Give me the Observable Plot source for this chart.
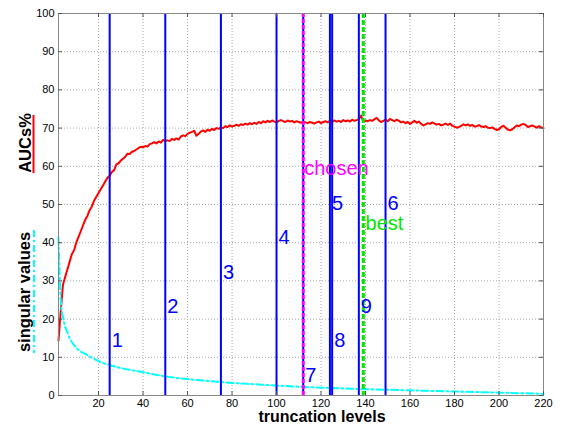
<!DOCTYPE html>
<html><head><meta charset="utf-8">
<script src="https://cdn.jsdelivr.net/npm/d3@7"></script>
<script src="https://cdn.jsdelivr.net/npm/@observablehq/plot@0.6"></script>
<style>body{margin:0;background:#fff;}</style>
</head><body><div id="chart"></div>
<script>
// AUC (%) at truncation levels 2..220
const aucStart = 2;
const aucValues = [
  14.4, 22, 29, 31, 33, 35, 37, 38, 40, 41.5,
  43, 44.5, 46, 47, 48.5, 49.5, 51, 52, 53, 54,
  55, 56, 57, 57.5, 58.5, 59, 60.5, 60.8, 61.5, 62,
  62.5, 63.3, 63.2, 63.8, 64, 64.4, 64.8, 65.1, 65.0, 65.3,
  65.2, 65.8, 66, 66.3, 66.0, 66.5, 66.2, 66.9, 66.6, 66.8,
  66.6, 67.2, 66.9, 67.3, 67.0, 67.8, 68.1, 67.9, 68.5, 68.8,
  69.0, 69.3, 68.0, 68.5, 69.1, 69.4, 69.0, 69.6, 69.3, 69.8,
  69.5, 70.0, 69.8, 70.2, 70.0, 70.5, 70.3, 70.7, 70.4, 70.6,
  70.9, 70.6, 71.0, 70.8, 71.2, 70.9, 71.3, 71.0, 71.4, 71.1,
  71.6, 71.3, 71.8, 71.5, 71.9, 71.6, 72.0, 71.7, 71.5, 71.9,
  72.1, 71.8, 71.6, 72.0, 71.7, 71.9, 71.5, 71.8, 71.6, 71.4,
  71.7, 71.5, 71.3, 71.6, 71.4, 71.2, 71.5, 71.7, 71.3, 71.6,
  71.8, 71.5, 71.9, 71.6, 72.0, 71.7, 71.9, 71.6, 72.1, 71.8,
  72.0, 71.7, 72.2, 71.9, 72.1, 72.3, 73.3, 71.6, 72.0, 71.8,
  72.1, 71.9, 72.3, 72.7, 72.0, 71.6, 71.9, 72.2, 71.8, 72.4,
  72.1, 71.8, 72.2, 71.9, 71.5, 71.7, 71.3, 71.6, 71.1, 71.5,
  71.9, 71.4, 71.7, 71.1, 70.7, 71.0, 71.3, 71.1, 71.5, 71.2,
  70.9, 71.1, 70.7, 70.9, 71.2, 70.8, 71.2, 70.6, 70.4, 70.1,
  70.3, 70.6, 71.0, 70.7, 71.0, 70.6, 70.8, 70.4, 70.5, 70.8,
  70.4, 70.3, 70.5, 70.1, 70.0, 70.2, 69.8, 69.5, 69.7, 70.3,
  70.6, 70.1, 69.6, 69.4, 69.7, 70.2, 70.7, 70.5, 70.9, 71.1,
  70.8, 70.3, 70.5, 70.7, 70.4, 70.1, 70.5, 70.2, 70.0
];
// singular values
const svLevels = [2, 3, 4, 5, 6, 7, 8, 10, 12, 14, 17, 20, 23, 26, 30, 35, 40, 45, 50, 60, 70, 80, 90, 100, 110, 120, 130, 140, 150, 160, 170, 180, 190, 200, 210, 220];
const svValues = [41.4, 25, 20.5, 18, 16.5, 15, 14, 12.5, 11.5, 10.9, 9.9, 9.0, 8.3, 7.8, 7.2, 6.6, 6.1, 5.5, 5.0, 4.3, 3.8, 3.3, 2.95, 2.6, 2.3, 2.05, 1.85, 1.65, 1.5, 1.35, 1.2, 1.05, 0.9, 0.75, 0.6, 0.45];
// candidate truncation levels
const lineLevels = [25, 50, 75, 100, 124, 149, 112, 125, 137];
const lineLabels = ["1", "2", "3", "4", "5", "6", "7", "8", "9"];
const labelHeights = [14, 23, 32, 41, 50, 50, 5, 14, 23];
const chosenLevel = 112;
const bestLevel = 139;
const chosenText = "chosen", chosenHeight = 59.5;
const bestText = "best", bestHeight = 45;
const xTicks = [20, 40, 60, 80, 100, 120, 140, 160, 180, 200, 220];
const yTicks = [0, 10, 20, 30, 40, 50, 60, 70, 80, 90, 100];
const gridY = [10, 20, 30, 40, 50, 60, 70, 80, 90];
const xLabel = "truncation levels";
const yLabel1 = "AUCs%";
const yLabel2 = "singular values";

const auc = aucValues.map((v, i) => ({x: aucStart + i, y: v}));
const sv = svLevels.map((x, i) => ({x, y: svValues[i]}));
const lines = lineLevels.map((x, i) => ({x, label: lineLabels[i], h: labelHeights[i]}));

const W = 563, H = 425, mL = 58, mR = 20, mT = 13, mB = 30;
const pw = W - mL - mR, ph = H - mT - mB;
const font = "'Liberation Sans', Arial, Helvetica, sans-serif";

const svg = Plot.plot({
  width: W, height: H,
  marginLeft: mL, marginRight: mR, marginTop: mT, marginBottom: mB,
  style: {fontFamily: font, fontSize: "11px", background: "#fff", color: "#000"},
  x: {domain: [2, 220]},
  y: {domain: [0, 100]},
  marks: [
    Plot.gridX(xTicks, {stroke: "#a8a8a8", strokeOpacity: 1, strokeDasharray: "1,2"}),
    Plot.gridY(gridY, {stroke: "#a8a8a8", strokeOpacity: 1, strokeDasharray: "1,2"}),
    Plot.line(auc, {x: "x", y: "y", stroke: "#ff0000", strokeWidth: 2}),
    Plot.line(sv, {x: "x", y: "y", stroke: "#00ffff", strokeWidth: 2, strokeDasharray: "7,3,2,3", curve: "monotone-x"}),
    Plot.ruleX(lines, {x: "x", stroke: "#0000ff", strokeWidth: 2}),
    Plot.ruleX([chosenLevel], {stroke: "#ff00ff", strokeWidth: 3, strokeDasharray: "4,2"}),
    Plot.ruleX([bestLevel], {stroke: "#00e600", strokeWidth: 3, strokeDasharray: "5,2"}),
    Plot.text(lines, {x: "x", y: "h", text: "label", textAnchor: "start", dx: 2, dy: -1, fill: "#0000ff", fontSize: 20}),
    Plot.text([chosenText], {x: chosenLevel, y: chosenHeight, text: d => d, textAnchor: "start", dx: 1, fill: "#ff00ff", fontSize: 20}),
    Plot.text([bestText], {x: bestLevel + 1, y: bestHeight, text: d => d, textAnchor: "start", fill: "#00e600", fontSize: 20}),
    Plot.frame({stroke: "#888"}),
    Plot.tickX(xTicks, {x: d => d, stroke: "#555", insetTop: ph - 4}),
    Plot.tickX(xTicks, {x: d => d, stroke: "#555", insetBottom: ph - 4}),
    Plot.tickY(yTicks, {y: d => d, stroke: "#555", insetRight: pw - 4}),
    Plot.tickY(yTicks, {y: d => d, stroke: "#555", insetLeft: pw - 4}),
    Plot.axisX(xTicks, {tickSize: 0, tickPadding: 3.5, label: null, fontSize: 11}),
    Plot.axisY(yTicks, {tickSize: 0, tickPadding: 4, label: null, fontSize: 11})
  ]
});

const s = d3.select(svg);
// x label
s.append("text").attr("x", 322).attr("y", 422).attr("text-anchor", "middle")
  .attr("font-family", font).attr("font-weight", "bold").attr("font-size", 16).attr("fill", "#000").text(xLabel);
// y label 1
s.append("text").attr("transform", "translate(30.5,143) rotate(-90)").attr("text-anchor", "middle")
  .attr("font-family", font).attr("font-weight", "bold").attr("font-size", 16.5).attr("fill", "#000").text(yLabel1);
s.append("line").attr("x1", 33.5).attr("x2", 33.5).attr("y1", 115).attr("y2", 173)
  .attr("stroke", "#ff0000").attr("stroke-width", 2);
// y label 2
s.append("text").attr("transform", "translate(29.5,292) rotate(-90)").attr("text-anchor", "middle")
  .attr("font-family", font).attr("font-weight", "bold").attr("font-size", 16.5).attr("fill", "#000").text(yLabel2);
s.append("line").attr("x1", 34).attr("x2", 34).attr("y1", 230).attr("y2", 353)
  .attr("stroke", "#00ffff").attr("stroke-width", 2).attr("stroke-dasharray", "7,3,2,3");

document.getElementById("chart").appendChild(svg);
</script>
</body></html>
